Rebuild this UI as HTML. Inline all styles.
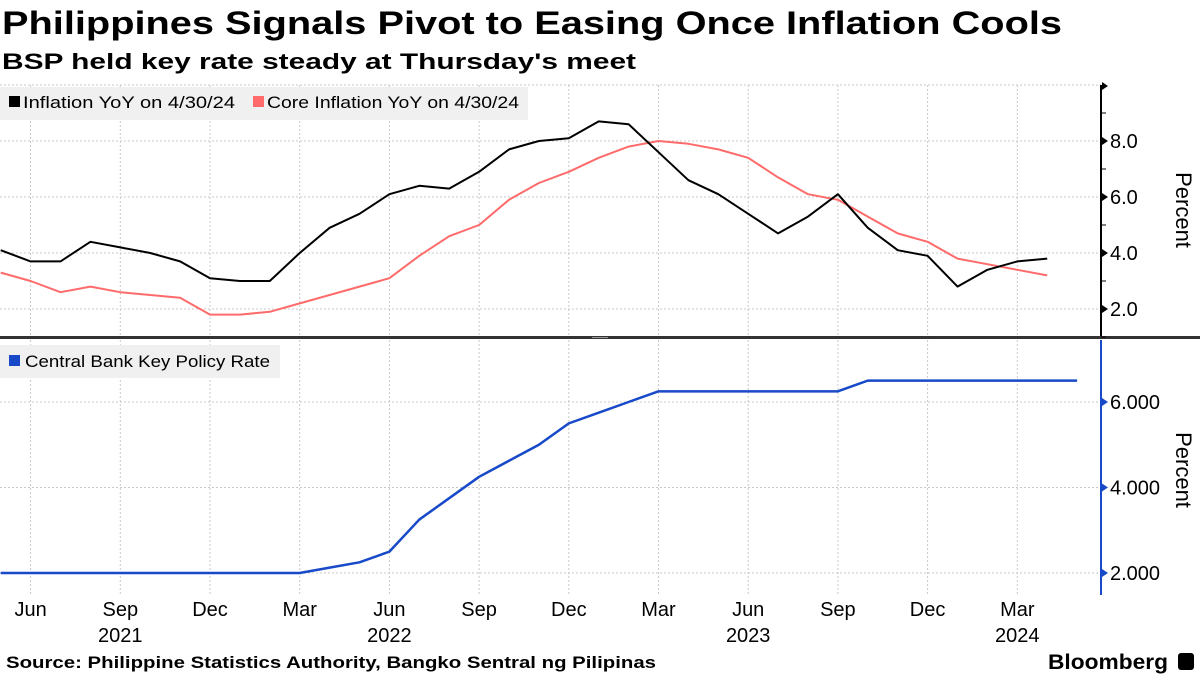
<!DOCTYPE html>
<html><head><meta charset="utf-8"><style>
body{margin:0;background:#fff;}
svg{display:block;font-family:"Liberation Sans",sans-serif;}
</style></head><body>
<svg id="chart" width="1200" height="675" viewBox="0 0 1200 675" xmlns="http://www.w3.org/2000/svg">
<text x="2" y="34" font-size="32" font-weight="bold" textLength="1060" lengthAdjust="spacingAndGlyphs">Philippines Signals Pivot to Easing Once Inflation Cools</text>
<text x="2" y="69" font-size="22" font-weight="bold" textLength="634" lengthAdjust="spacingAndGlyphs">BSP held key rate steady at Thursday's meet</text>
<g id="grid"></g>
<rect x="0" y="87" width="528" height="33" fill="#f0f0f0"/>
<rect x="9" y="96" width="11" height="11" fill="#000"/>
<text x="23" y="108" font-size="17" textLength="212" lengthAdjust="spacingAndGlyphs">Inflation YoY on 4/30/24</text>
<rect x="253" y="96" width="11" height="11" fill="#ff6b6b"/>
<text x="267" y="108" font-size="17" textLength="252" lengthAdjust="spacingAndGlyphs">Core Inflation YoY on 4/30/24</text>
<rect x="0" y="345" width="280" height="33" fill="#f0f0f0"/>
<rect x="9" y="355" width="11" height="11" fill="#1749c8"/>
<text x="25" y="367" font-size="17" textLength="245" lengthAdjust="spacingAndGlyphs">Central Bank Key Policy Rate</text>
<rect x="0" y="336" width="1200" height="3" fill="#333"/>
<rect x="592" y="337" width="16" height="1" fill="#999"/>
<g id="marks"></g>
<g id="axes"></g>
<text transform="translate(1176,210) rotate(90)" text-anchor="middle" font-size="22">Percent</text>
<text transform="translate(1176,470) rotate(90)" text-anchor="middle" font-size="22">Percent</text>
<text x="6" y="668" font-size="17" font-weight="bold" textLength="650" lengthAdjust="spacingAndGlyphs">Source: Philippine Statistics Authority, Bangko Sentral ng Pilipinas</text>
<text x="1048" y="669" font-size="21" font-weight="bold" textLength="120" lengthAdjust="spacingAndGlyphs">Bloomberg</text>
<rect x="1178" y="653" width="16" height="17" rx="3" fill="#000"/>
</svg>
<script>
const months = ["May21","Jun21","Jul21","Aug21","Sep21","Oct21","Nov21","Dec21","Jan22","Feb22","Mar22","Apr22","May22","Jun22","Jul22","Aug22","Sep22","Oct22","Nov22","Dec22","Jan23","Feb23","Mar23","Apr23","May23","Jun23","Jul23","Aug23","Sep23","Oct23","Nov23","Dec23","Jan24","Feb24","Mar24","Apr24"];
const inflation = [4.1,3.7,3.7,4.4,4.2,4.0,3.7,3.1,3.0,3.0,4.0,4.9,5.4,6.1,6.4,6.3,6.9,7.7,8.0,8.1,8.7,8.6,7.6,6.6,6.1,5.4,4.7,5.3,6.1,4.9,4.1,3.9,2.8,3.4,3.7,3.8];
const coreInflation = [3.3,3.0,2.6,2.8,2.6,2.5,2.4,1.8,1.8,1.9,2.2,2.5,2.8,3.1,3.9,4.6,5.0,5.9,6.5,6.9,7.4,7.8,8.0,7.9,7.7,7.4,6.7,6.1,5.9,5.3,4.7,4.4,3.8,3.6,3.4,3.2];
const policyMonths = ["May21","Jun21","Jul21","Aug21","Sep21","Oct21","Nov21","Dec21","Jan22","Feb22","Mar22","Apr22","May22","Jun22","Jul22","Aug22","Sep22","Oct22","Nov22","Dec22","Jan23","Feb23","Mar23","Apr23","May23","Jun23","Jul23","Aug23","Sep23","Oct23","Nov23","Dec23","Jan24","Feb24","Mar24","Apr24","May24"];
const policyRate = [2.0,2.0,2.0,2.0,2.0,2.0,2.0,2.0,2.0,2.0,2.0,2.125,2.25,2.5,3.25,3.75,4.25,4.625,5.0,5.5,5.75,6.0,6.25,6.25,6.25,6.25,6.25,6.25,6.25,6.5,6.5,6.5,6.5,6.5,6.5,6.5,6.5];
const xTickLabels = ["Jun","Sep","Dec","Mar","Jun","Sep","Dec","Mar","Jun","Sep","Dec","Mar"];
const xTickMonths = ["Jun21","Sep21","Dec21","Mar22","Jun22","Sep22","Dec22","Mar23","Jun23","Sep23","Dec23","Mar24"];
const yearLabels = ["2021","2022","2023","2024"];
const yearMonths = ["Sep21","Jun22","Jun23","Mar24"];
const topTicks = [2,4,6,8];
const topTickLabels = ["2.0","4.0","6.0","8.0"];
const bottomTicks = [2,4,6];
const bottomTickLabels = ["2.000","4.000","6.000"];

const NS="http://www.w3.org/2000/svg";
const xScale = i => 0.7 + 29.9*i;
const xOf = m => xScale(months.indexOf(m) >= 0 ? months.indexOf(m) : policyMonths.indexOf(m));
const yTop = v => 141 + (8 - v)*28;
const yBot = v => 573 - (v - 2)*42.75;
function mk(tag, attrs, parent){const e=document.createElementNS(NS,tag);for(const k in attrs)e.setAttribute(k,attrs[k]);document.getElementById(parent).appendChild(e);return e;}

xTickMonths.forEach((m,i)=>{
  const x=xOf(m);
  const g1=mk('line',{x1:x,x2:x,y1:85,y2:335,stroke:'#c8c8c8','stroke-dasharray':'2,2','stroke-width':1},'grid');
  
  
  const g2=mk('line',{x1:x,x2:x,y1:340,y2:595,stroke:'#c8c8c8','stroke-dasharray':'2,2','stroke-width':1},'grid');
  
  
  const t=mk('text',{x:x,y:616,'font-size':20,'text-anchor':'middle'},'axes');
  t.textContent=xTickLabels[i];
  
  
});
yearMonths.forEach((m,i)=>{
  const t=mk('text',{x:xOf(m),y:642,'font-size':20,'text-anchor':'middle'},'axes');
  t.textContent=yearLabels[i];
  
  
});
[10].concat(topTicks).forEach(v=>{
  const l=mk('line',{x1:0,x2:1101,y1:yTop(v),y2:yTop(v),stroke:'#c8c8c8','stroke-dasharray':'2,2'},'grid');
  
  
});
bottomTicks.forEach(v=>{
  const l=mk('line',{x1:0,x2:1101,y1:yBot(v),y2:yBot(v),stroke:'#c8c8c8','stroke-dasharray':'2,2'},'grid');
  
  
});

function line(vals, ys, color, name, w){
  const p=mk('polyline',{points:vals.map((v,i)=>xScale(i)+','+ys(v)).join(' '),fill:'none',stroke:color,'stroke-width':w,'stroke-linejoin':'round'},'marks');
  
  
}
line(coreInflation,yTop,'#ff6b6b','core-inflation-line',2);
line(inflation,yTop,'#000','inflation-line',2);
line(policyRate,yBot,'#1749c8','policy-rate-line',2.5);

const ta=mk('line',{x1:1101,x2:1101,y1:85,y2:336,stroke:'#000','stroke-width':2},'axes');


const arr=mk('path',{d:'M1102,82 L1108,86 L1102,90 Z',fill:'#000'},'axes');


[1,3,5,7,9].forEach(v=>{
  const l=mk('line',{x1:1101,x2:1106,y1:yTop(v),y2:yTop(v),stroke:'#000'},'axes');
  
  
});
topTicks.forEach((v,i)=>{
  const p=mk('path',{d:`M1102,${yTop(v)-4} L1108,${yTop(v)} L1102,${yTop(v)+4} Z`,fill:'#000'},'axes');
  
  
  const t=mk('text',{x:1110,y:yTop(v)+7,'font-size':20},'axes');
  t.textContent=topTickLabels[i];
  
  
});
const ba=mk('line',{x1:1101,x2:1101,y1:340,y2:595,stroke:'#1749c8','stroke-width':2},'axes');


bottomTicks.forEach((v,i)=>{
  const p=mk('path',{d:`M1102,${yBot(v)-4} L1108,${yBot(v)} L1102,${yBot(v)+4} Z`,fill:'#1749c8'},'axes');
  
  
  const t=mk('text',{x:1110,y:yBot(v)+7,'font-size':20},'axes');
  t.textContent=bottomTickLabels[i];
  
  
});
</script>
</body></html>
